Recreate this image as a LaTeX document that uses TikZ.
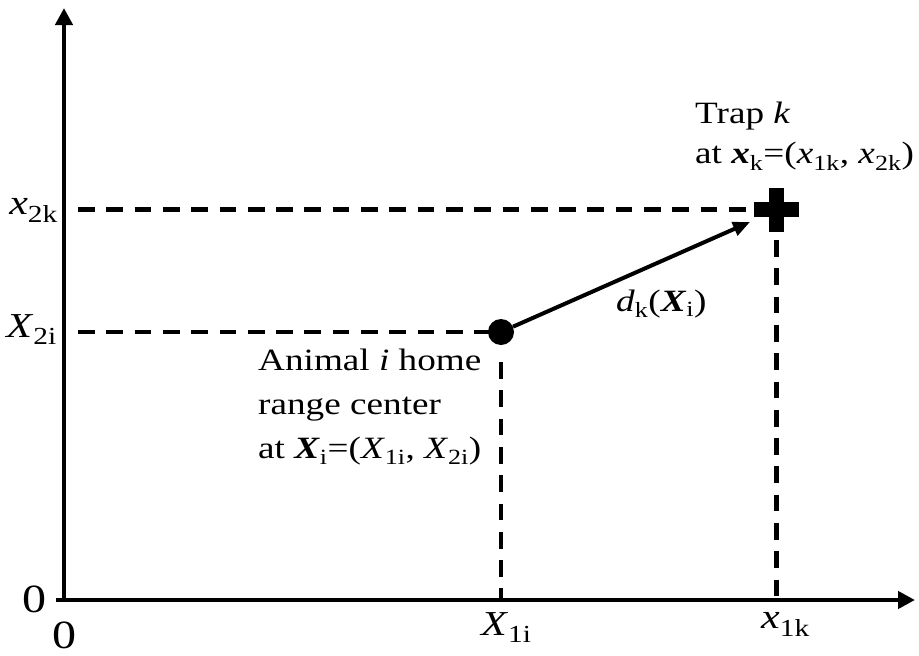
\documentclass[tikz,border=0pt]{standalone}
\usepackage{fontspec}
\setmainfont{Liberation Serif}[FakeStretch=1.2]
\usepackage{tikz}
\usetikzlibrary{arrows.meta,positioning}

\begin{document}
\begin{tikzpicture}[
  x=1pt, y=-1pt,
  axis/.style={line width=4.5pt, -{Triangle[length=17pt,width=17pt]}},
  guide/.style={line width=4.5pt, dash pattern=on 16.7pt off 11.6pt},
  lbl/.style={inner sep=0pt, font=\fontsize{31}{40}\selectfont},
  tick/.style={inner sep=0pt, font=\fontsize{35}{40}\selectfont},
  dist/.style={line width=4pt, -{Triangle[length=17pt,width=14pt]}}
]
\useasboundingbox (0,0) rectangle (919,656);

% axes
\coordinate (o) at (64,600);
\coordinate (ytop) at (64,8);
\coordinate (xend) at (915,600);
\coordinate (xleft) at (56,600);
\draw[axis] (o) -- (ytop);
\draw[axis] (xleft) -- (xend);

% home range center and trap
\node[circle, fill=black, inner sep=0pt, minimum size=26pt] (ctr) at (501,332) {};
\node[inner sep=0pt, minimum size=0pt] (trap) at (776.5,209.5) {};
\fill (754,202) rectangle (799,217);
\fill (769,188) rectangle (784,232);

% projections
\coordinate (y2i) at (78,332);
\coordinate (y2k) at (78,209.5);
\coordinate (x1i) at (501,600);
\coordinate (x1k) at (776.5,600);
\draw[guide] (y2i) -- (ctr.center);
\draw[guide] (y2k) -- (752,209.5);
\draw[guide] (501,362) -- (x1i);
\draw[guide] (776.5,240) -- (x1k);

% distance
\draw[dist] (ctr) -- (750,222);

% tick labels
\node[tick, anchor=base east] (l2k) at (58,214) {\textit{x}\textsubscript{2k}};
\node[tick, anchor=base east] (l2i) at (57,337) {\textit{X}\textsubscript{2i}};
\node[tick, anchor=base east, font=\fontsize{40}{44}\selectfont] (l0y) at (47,612) {0};
\node[tick, anchor=base, font=\fontsize{40}{44}\selectfont] (l0x) at (64,648) {0};
\node[tick, anchor=base west] (l1i) at (481,635) {\textit{X}\textsubscript{1i}};
\node[tick, anchor=base west] (l1k) at (761,628) {\textit{x}\textsubscript{1k}};

% texts
\node[lbl, anchor=base west] (dlbl) at (616,311) {\textit{d}\textsubscript{k}(\textbf{\textit{X}}\textsubscript{i})};
\node[lbl, anchor=north west, align=left] (traplbl) at (695,102)
  {Trap \textit{k}\\at \textbf{\textit{x}}\textsubscript{k}=(\textit{x}\textsubscript{1k}, \textit{x}\textsubscript{2k})};
\node[lbl, anchor=north west, align=left, font=\fontsize{31}{44}\selectfont] (anlbl) at (258,349)
  {Animal \textit{i} home\\range center\\at \textbf{\textit{X}}\textsubscript{i}=(\textit{X}\textsubscript{1i}, \textit{X}\textsubscript{2i})};
\end{tikzpicture}
\end{document}
